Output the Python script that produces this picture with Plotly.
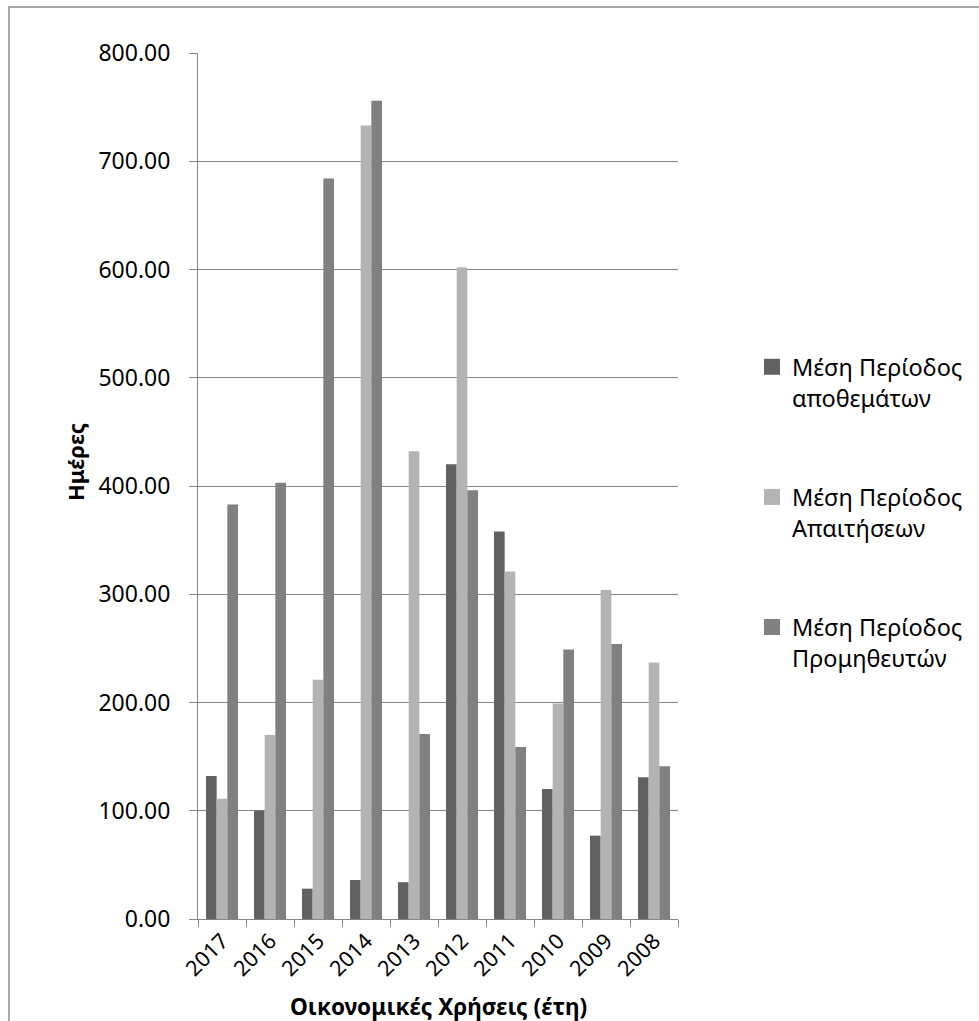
import plotly.graph_objects as go

years = ["2017", "2016", "2015", "2014", "2013", "2012", "2011", "2010", "2009", "2008"]
inventory_days = [132, 100, 28, 36, 34, 420, 358, 120, 77, 131]
receivable_days = [111, 170, 221, 733, 432, 602, 321, 199, 304, 237]
payable_days = [383, 403, 684, 756, 171, 396, 159, 249, 254, 141]

series_names = [
    "Μέση Περίοδος<br>αποθεμάτων",
    "Μέση Περίοδος<br>Απαιτήσεων",
    "Μέση Περίοδος<br>Προμηθευτών",
]
series_colors = ["#626262", "#b3b3b3", "#808080"]

FONT = "Noto Sans"
W, H = 979, 1021
L, R, T, B = 198, 301, 53, 102
pw, ph = W - L - R, H - T - B


def px_x(x):
    return (x - L) / pw


def px_y(y):
    return (H - B - y) / ph


fig = go.Figure()
for i, (name, vals, col) in enumerate(zip(series_names, [inventory_days, receivable_days, payable_days], series_colors)):
    fig.add_trace(go.Bar(
        x=years, y=vals, name=name, marker_color=col, marker_line_width=0,
        legendgroup=f"g{i}", showlegend=False,
    ))
    # square legend key for the series
    fig.add_trace(go.Scatter(
        x=[None], y=[None], mode="markers", name=name, legendgroup=f"g{i}",
        marker=dict(symbol="square", size=16, color=col, line=dict(width=0)),
    ))

# outer chart border (left and top edges visible)
fig.add_shape(type="rect", xref="paper", yref="paper",
              x0=px_x(9), x1=px_x(990), y0=px_y(1040), y1=px_y(7),
              line=dict(color="#8c8c8c", width=1.5), fillcolor="rgba(0,0,0,0)", layer="below")

# axis titles
fig.add_annotation(text="<b>Οικονομικές Χρήσεις (έτη)</b>", xref="paper", yref="paper",
                   x=px_x(438), y=px_y(1007), xanchor="center", yanchor="middle",
                   showarrow=False, font=dict(family=FONT, size=22.6, color="black"))
fig.add_annotation(text="<b>Ημέρες</b>", xref="paper", yref="paper",
                   x=px_x(75), y=px_y(462), xanchor="center", yanchor="middle", textangle=-90,
                   showarrow=False, font=dict(family=FONT, size=22, color="black"))

fig.update_layout(
    width=W, height=H,
    margin=dict(l=L, r=R, t=T, b=B, autoexpand=False),
    paper_bgcolor="white", plot_bgcolor="white",
    barmode="group", bargap=1/3, bargroupgap=0,
    font=dict(family=FONT, size=18, color="black"),
    showlegend=True,
    legend=dict(
        x=px_x(752), xanchor="left",
        y=px_y(345), yanchor="top", valign="top",
        font=dict(family=FONT, size=23.5, color="black"),
        tracegroupgap=66, itemwidth=30, bgcolor="rgba(0,0,0,0)",
    ),
    xaxis=dict(
        type="category", tickangle=-45, tickson="boundaries",
        ticks="outside", ticklen=7, tickcolor="#868686", tickwidth=1,
        showline=True, linecolor="#868686", linewidth=1,
        showgrid=False, tickfont=dict(family=FONT, size=21.5),
    ),
    yaxis=dict(
        range=[0, 800], dtick=100, tickformat=".2f",
        ticks="outside", ticklen=8, tickcolor="#868686",
        showline=True, linecolor="#868686", linewidth=1,
        showgrid=True, gridcolor="#868686", gridwidth=1,
        zeroline=False, tickfont=dict(family=FONT, size=23),
        ticklabelstandoff=14,
    ),
)

fig.write_html("out.html")
